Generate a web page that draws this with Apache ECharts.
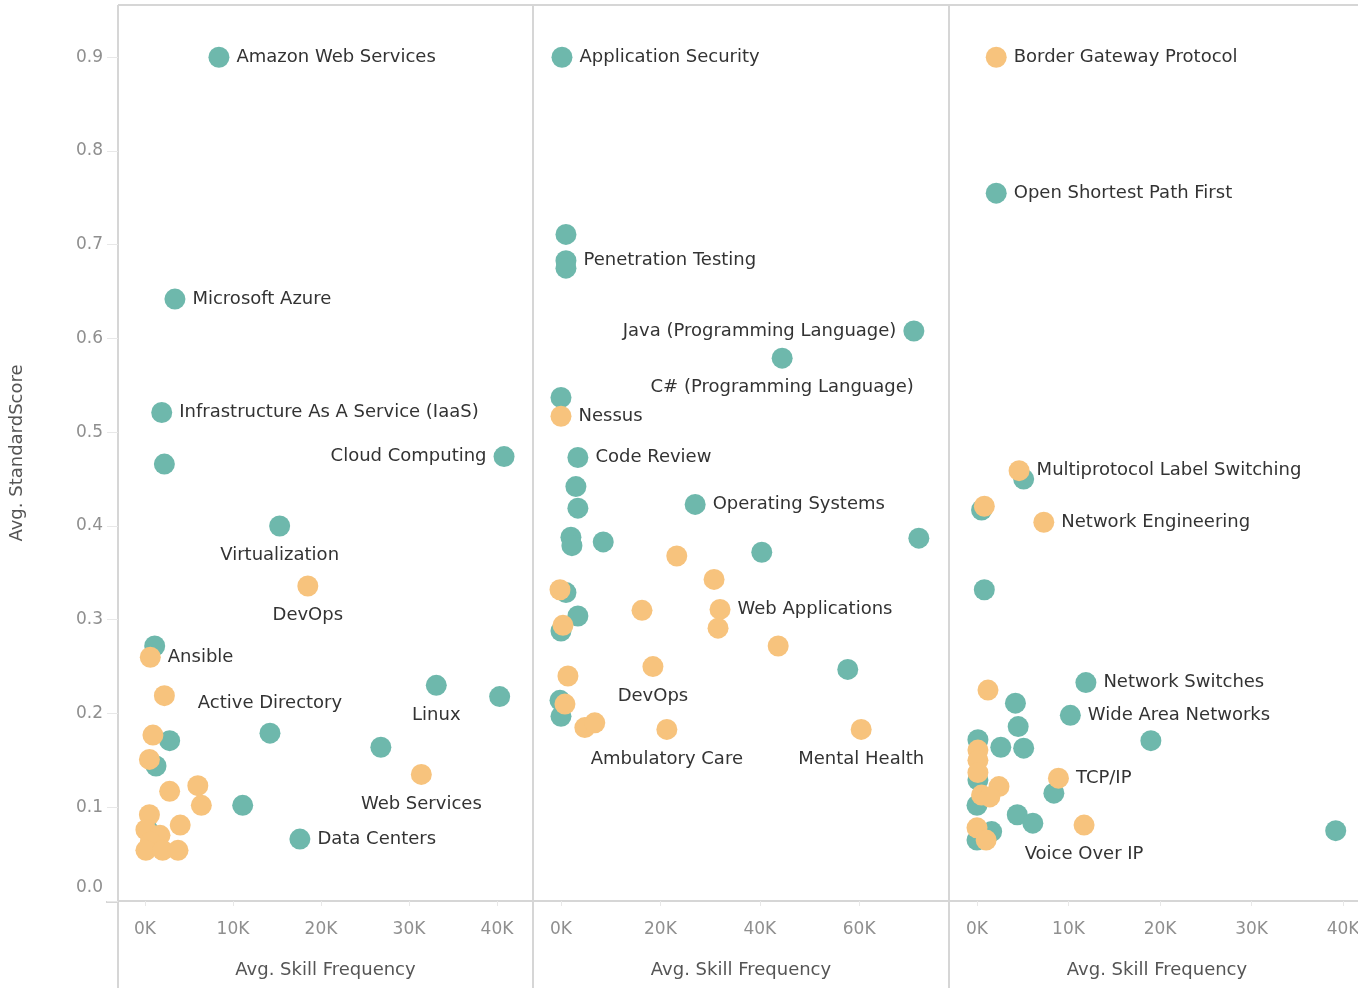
<!DOCTYPE html>
<html>
<head>
<meta charset="utf-8">
<title>Avg. StandardScore vs Avg. Skill Frequency</title>
<script src="https://cdn.jsdelivr.net/npm/echarts@6/dist/echarts.min.js"></script>
<style>
html, body { margin: 0; padding: 0; background: #fff; }
#chart { width: 1358px; height: 988px; }
</style>
</head>
<body>
<div id="chart"></div>
<script>
// 数据: [频率, 分数, 名称]
var cloudTeal = [
    [8400, 0.900, 'Amazon Web Services'], [3400, 0.642, 'Microsoft Azure'],
    [1900, 0.521, 'Infrastructure As A Service (IaaS)'], [2200, 0.466, ''],
    [40800, 0.474, 'Cloud Computing'], [15300, 0.400, 'Virtualization'],
    [1100, 0.272, ''], [2800, 0.171, ''], [1250, 0.144, ''],
    [14200, 0.179, 'Active Directory'], [33100, 0.230, 'Linux'], [40300, 0.218, ''],
    [26800, 0.164, ''], [11100, 0.102, ''], [17600, 0.066, 'Data Centers'], [300, 0.076, '']
];
var cloudOrange = [
    [18500, 0.336, 'DevOps'], [600, 0.260, 'Ansible'], [2200, 0.219, ''],
    [900, 0.177, ''], [500, 0.151, ''], [6000, 0.123, ''], [2800, 0.117, ''],
    [6400, 0.102, ''], [31400, 0.135, 'Web Services'], [4000, 0.081, ''],
    [500, 0.092, ''], [100, 0.076, ''], [1700, 0.070, ''], [600, 0.063, ''],
    [100, 0.054, ''], [2000, 0.054, ''], [3750, 0.054, '']
];
var devTeal = [
    [200, 0.900, 'Application Security'], [1000, 0.711, ''],
    [1000, 0.683, 'Penetration Testing'], [1000, 0.675, ''],
    [71000, 0.608, 'Java (Programming Language)'], [44500, 0.579, 'C# (Programming Language)'],
    [0, 0.537, ''], [3400, 0.473, 'Code Review'], [3000, 0.442, ''], [3400, 0.419, ''],
    [2000, 0.388, ''], [2200, 0.379, ''], [8500, 0.383, ''],
    [27000, 0.423, 'Operating Systems'], [40400, 0.372, ''], [72000, 0.387, ''],
    [1000, 0.329, ''], [3400, 0.304, ''], [0, 0.288, ''], [57700, 0.247, ''],
    [-200, 0.214, ''], [0, 0.197, '']
];
var devOrange = [
    [0, 0.517, 'Nessus'], [23300, 0.368, ''], [30800, 0.343, ''], [-200, 0.332, ''],
    [16300, 0.310, ''], [32000, 0.311, 'Web Applications'], [31600, 0.291, ''],
    [400, 0.294, ''], [43700, 0.272, ''], [1400, 0.240, ''], [18500, 0.250, 'DevOps'],
    [800, 0.210, ''], [4800, 0.185, ''], [6800, 0.190, ''],
    [21300, 0.183, 'Ambulatory Care'], [60400, 0.183, 'Mental Health']
];
var netTeal = [
    [2100, 0.755, 'Open Shortest Path First'], [5100, 0.450, ''], [500, 0.417, ''],
    [800, 0.332, ''], [11900, 0.233, 'Network Switches'], [10200, 0.198, 'Wide Area Networks'],
    [4200, 0.211, ''], [4500, 0.186, ''], [2600, 0.164, ''], [5100, 0.163, ''],
    [19000, 0.171, ''], [100, 0.172, ''], [8400, 0.115, ''], [4400, 0.092, ''],
    [6100, 0.083, ''], [39200, 0.075, ''], [1600, 0.074, ''], [0, 0.065, ''],
    [0, 0.102, ''], [100, 0.129, '']
];
var netOrange = [
    [2100, 0.900, 'Border Gateway Protocol'], [4600, 0.459, 'Multiprotocol Label Switching'],
    [800, 0.421, ''], [7300, 0.404, 'Network Engineering'], [1200, 0.225, ''],
    [100, 0.161, ''], [100, 0.150, ''], [100, 0.137, ''], [500, 0.113, ''],
    [2400, 0.122, ''], [1400, 0.111, ''], [8900, 0.131, 'TCP/IP'],
    [11700, 0.081, 'Voice Over IP'], [0, 0.078, ''], [1000, 0.065, '']
];

// 刻度
var yTicks = [0, 0.1, 0.2, 0.3, 0.4, 0.5, 0.6, 0.7, 0.8, 0.9];
var xTicks1 = [0, 10000, 20000, 30000, 40000];
var xTicks2 = [0, 20000, 40000, 60000];
var xTicks3 = [0, 10000, 20000, 30000, 40000];

// 标签位置
var labelPos = {
    'Cloud Computing': 'left',
    'Java (Programming Language)': 'left',
    'Virtualization': 'bottom',
    'DevOps': 'bottom',
    'Linux': 'bottom',
    'Web Services': 'bottom',
    'C# (Programming Language)': 'bottom',
    'Ambulatory Care': 'bottom',
    'Mental Health': 'bottom',
    'Voice Over IP': 'bottom',
    'Active Directory': 'top'
};

var TEAL = '#6eb8ac';
var ORANGE = '#f7c37d';
var LINE = '#d6d6d6';
var FONT = 'DejaVu Sans';

var myChart = echarts.init(document.getElementById('chart'));

function toItems(arr) {
    return arr.map(function (d) {
        var item = { value: [d[0], d[1]], name: d[2] };
        if (d[2]) {
            var pos = labelPos[d[2]] || 'right';
            item.label = { show: true, position: pos, distance: (pos === 'bottom' || pos === 'top') ? 10 : 7 };
        }
        return item;
    });
}

function makeX(idx, min, max, ticks) {
    return {
        gridIndex: idx, type: 'value', min: min, max: max,
        name: 'Avg. Skill Frequency', nameLocation: 'middle', nameGap: 60,
        nameTextStyle: { color: '#555', fontSize: 18, fontFamily: FONT },
        splitLine: { show: false },
        axisLine: { show: true, onZero: false, lineStyle: { color: LINE, width: 2 } },
        axisTick: { show: true, length: 5, customValues: ticks, lineStyle: { color: '#e8e8e8' } },
        axisLabel: {
            customValues: ticks, margin: 20, color: '#8f8f8f', fontSize: 17, fontFamily: FONT,
            formatter: function (v) { return (v / 1000) + 'K'; }
        }
    };
}

function makeY(idx, show) {
    return {
        gridIndex: idx, type: 'value', min: 0, max: 0.9557,
        name: show ? 'Avg. StandardScore' : '', nameLocation: 'middle', nameGap: 92,
        nameTextStyle: { color: '#555', fontSize: 18, fontFamily: FONT },
        splitLine: { show: false },
        axisLine: { show: false, onZero: false },
        axisTick: { show: show, length: 11, customValues: yTicks, lineStyle: { color: '#e8e8e8' } },
        axisLabel: {
            show: show, customValues: yTicks, margin: 15, color: '#8f8f8f', fontSize: 17, fontFamily: FONT,
            formatter: function (v) { return v === 0 ? '{z|0.0}' : v.toFixed(1); },
            rich: { z: { color: '#8f8f8f', fontSize: 17, fontFamily: FONT, padding: [0, 0, 26, 0] } }
        }
    };
}

function makeSeries(idx, arr, color) {
    return {
        type: 'scatter', xAxisIndex: idx, yAxisIndex: idx,
        symbolSize: 21,
        itemStyle: { color: color, opacity: 1 },
        label: { show: false, color: '#333', fontSize: 18, fontFamily: FONT, formatter: '{b}' },
        labelLayout: { hideOverlap: false },
        emphasis: { disabled: true },
        data: toItems(arr)
    };
}

var option = {
    animation: false,
    grid: [
        { left: 118, top: 5, width: 415, height: 896, outerBoundsMode: 'none' },
        { left: 533, top: 5, width: 416, height: 896, outerBoundsMode: 'none' },
        { left: 949, top: 5, width: 416, height: 896, outerBoundsMode: 'none' }
    ],
    xAxis: [
        makeX(0, -3070, 44090, xTicks1),
        makeX(1, -5630, 78070, xTicks2),
        makeX(2, -3060, 42400, xTicks3)
    ],
    yAxis: [makeY(0, true), makeY(1, false), makeY(2, false)],
    // 面板分隔线
    graphic: [
        { type: 'line', shape: { x1: 118, y1: 5, x2: 1358, y2: 5 }, style: { stroke: LINE, lineWidth: 2 } },
        { type: 'line', shape: { x1: 118, y1: 5, x2: 118, y2: 988 }, style: { stroke: LINE, lineWidth: 2 } },
        { type: 'line', shape: { x1: 533, y1: 5, x2: 533, y2: 988 }, style: { stroke: LINE, lineWidth: 2 } },
        { type: 'line', shape: { x1: 949, y1: 5, x2: 949, y2: 988 }, style: { stroke: LINE, lineWidth: 2 } },
        { type: 'line', shape: { x1: 106, y1: 902, x2: 118, y2: 902 }, style: { stroke: LINE, lineWidth: 2 } }
    ],
    series: [
        makeSeries(0, cloudTeal, TEAL), makeSeries(0, cloudOrange, ORANGE),
        makeSeries(1, devTeal, TEAL), makeSeries(1, devOrange, ORANGE),
        makeSeries(2, netTeal, TEAL), makeSeries(2, netOrange, ORANGE)
    ]
};

myChart.setOption(option);
</script>
</body>
</html>
